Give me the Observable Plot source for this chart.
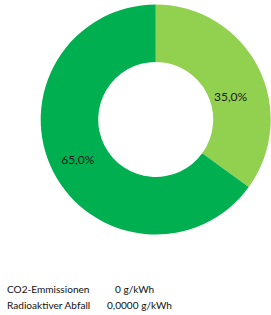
<!DOCTYPE html>
<html>
<head>
<meta charset="utf-8">
<script src="https://cdn.jsdelivr.net/npm/d3@7"></script>
<script src="https://cdn.jsdelivr.net/npm/@observablehq/plot@0.6"></script>
<style>
  html, body { margin: 0; padding: 0; background: #fff; }
  #wrap { position: relative; width: 271px; height: 315px; overflow: hidden; }
  #info { position: absolute; left: 0; top: 0; width: 271px; font-family: Lato, "Open Sans", sans-serif; font-size: 10.1px; color: #111; }
  #info .row { position: absolute; left: 7px; white-space: nowrap; }
  #info .val { position: absolute; white-space: nowrap; }
</style>
</head>
<body>
<div id="wrap"><div id="chart"></div><div id="info"></div></div>
<script>
// Data
const categories = ["Anteil A", "Anteil B"];
const shares = [35.0, 65.0];
const sliceLabels = ["35,0%", "65,0%"];
const colors = ["#92D050", "#00B050"];
const infoLabels = ["CO2-Emmissionen", "Radioaktiver Abfall"];
const infoValues = ["0 g/kWh", "0,0000 g/kWh"];

const innerR = 0.5, outerR = 1;
const pie = d3.pie().sort(null).value(d => d.share).startAngle(0).endAngle(2 * Math.PI);
const slices = pie(categories.map((c, i) => ({category: c, share: shares[i], label: sliceLabels[i], color: colors[i]})));
const labelArc = d3.arc().innerRadius(0.765).outerRadius(0.765);
const labelData = slices.map(s => {
  const [cx, cy] = labelArc.centroid(s);
  return {x: cx, y: -cy, label: s.data.label, share: s.data.share};
});

function donutMark(index, scales, values, dimensions) {
  const x0 = scales.x(0), y0 = scales.y(0);
  const rpx = Math.abs(scales.x(1) - scales.x(0));
  const arc = d3.arc().innerRadius(innerR * rpx).outerRadius(outerR * rpx);
  const g = d3.create("svg:g").attr("transform", `translate(${x0},${y0})`);
  g.selectAll("path").data(slices).join("path")
    .attr("d", arc).attr("fill", d => d.data.color).attr("stroke", "none");
  return g.node();
}

const plot = Plot.plot({
  width: 271, height: 240,
  marginLeft: 40.7, marginRight: 0.3, marginTop: 4.5, marginBottom: 5.5,
  x: {domain: [-1, 1], axis: null},
  y: {domain: [-1, 1], axis: null},
  style: {fontFamily: "Lato, 'Open Sans', sans-serif", background: "transparent"},
  marks: [
    donutMark,
    Plot.text(labelData.filter(d => d.share === 35), {x: "x", y: "y", text: "label", fontSize: 12, fill: "#1a1a1a", dx: -4, dy: 17}),
    Plot.text(labelData.filter(d => d.share === 65), {x: "x", y: "y", text: "label", fontSize: 12, fill: "#1a1a1a"})
  ]
});
document.getElementById("chart").appendChild(plot);

const info = d3.select("#info");
const tops = [283, 299];
const valLefts = [115, 107];
infoLabels.forEach((l, i) => {
  info.append("div").attr("class", "row").style("top", tops[i] + "px").text(l);
  info.append("div").attr("class", "val").style("top", tops[i] + "px").style("left", valLefts[i] + "px").text(infoValues[i]);
});
</script>
</body>
</html>
